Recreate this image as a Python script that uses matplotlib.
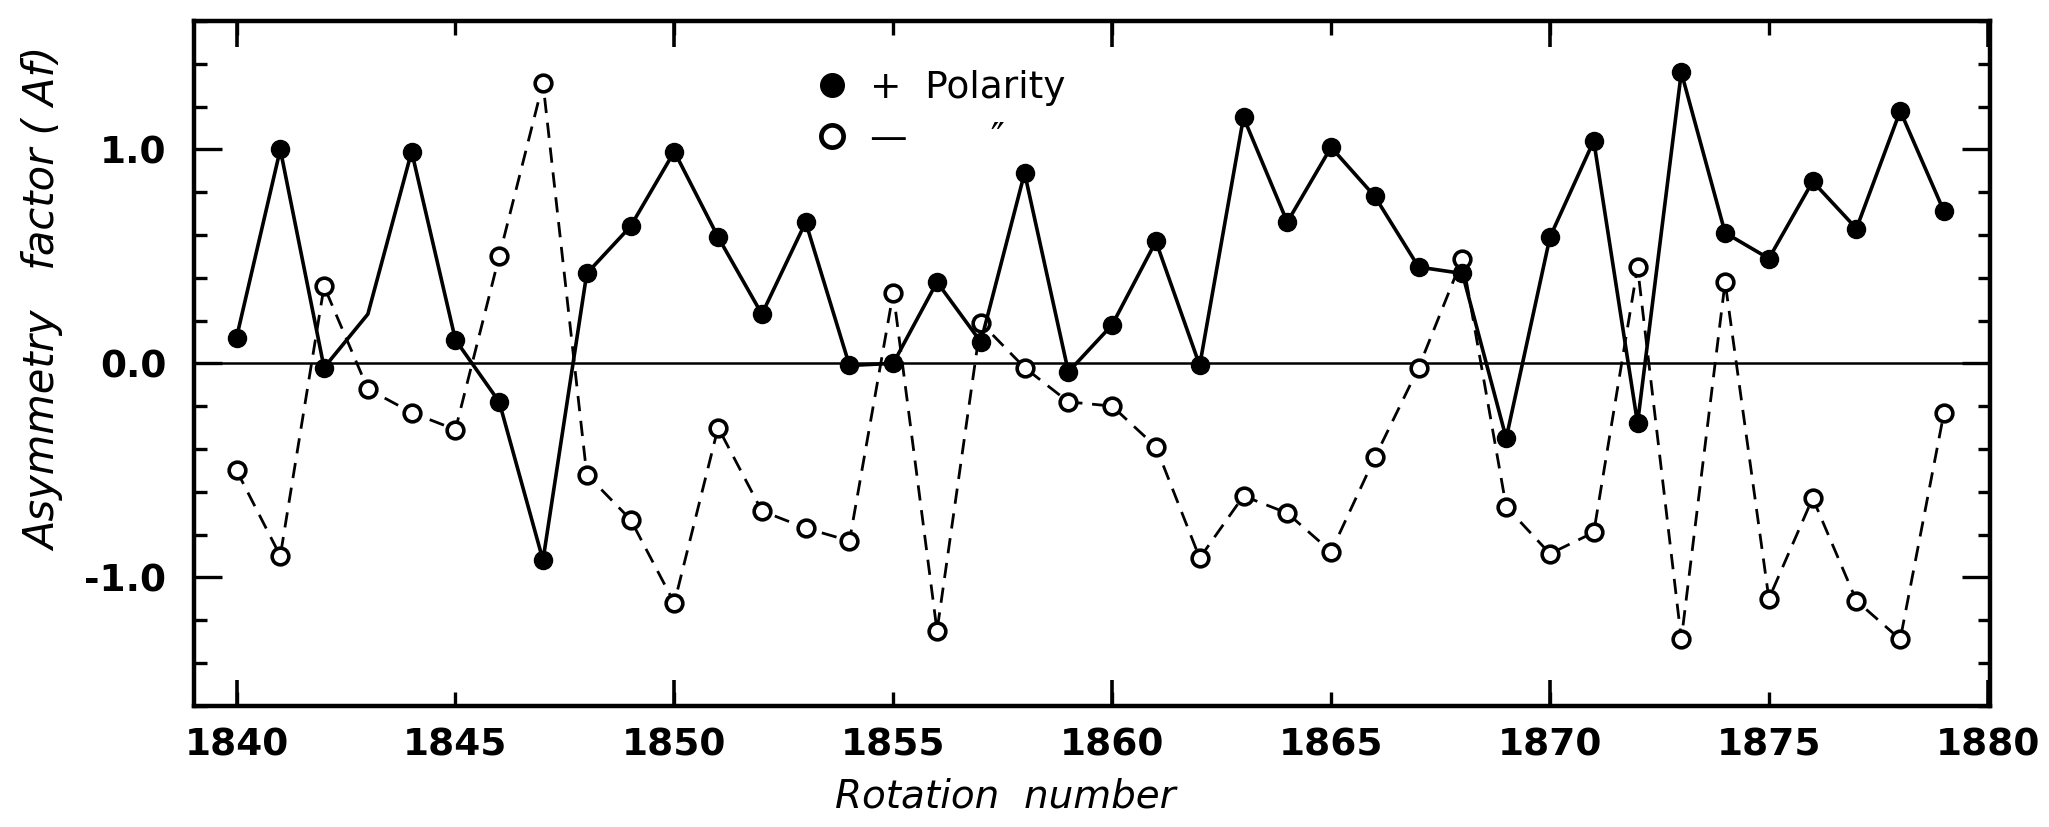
import matplotlib
matplotlib.use("Agg")
import matplotlib.pyplot as plt
from matplotlib.lines import Line2D
from matplotlib.ticker import MultipleLocator, FixedLocator

# Carrington rotation numbers
rotation = list(range(1840, 1880))

# Asymmetry factor, positive-polarity regions
af_pos = [0.12, 1.00, -0.02, 0.23, 0.99, 0.11, -0.18, -0.92, 0.42, 0.64,
          0.99, 0.59, 0.23, 0.66, -0.01, 0.00, 0.38, 0.10, 0.89, -0.04,
          0.18, 0.57, -0.01, 1.15, 0.66, 1.01, 0.78, 0.45, 0.42, -0.35,
          0.59, 1.04, -0.28, 1.36, 0.61, 0.49, 0.85, 0.63, 1.18, 0.71]

# Asymmetry factor, negative-polarity regions
af_neg = [-0.50, -0.90, 0.36, -0.12, -0.23, -0.31, 0.50, 1.31, -0.52, -0.73,
          -1.12, -0.30, -0.69, -0.77, -0.83, 0.33, -1.25, 0.19, -0.02, -0.18,
          -0.20, -0.39, -0.91, -0.62, -0.70, -0.88, -0.44, -0.02, 0.49, -0.67,
          -0.89, -0.79, 0.45, -1.29, 0.38, -1.10, -0.63, -1.11, -1.29, -0.23]

x_ticks = [1840, 1845, 1850, 1855, 1860, 1865, 1870, 1875, 1880]
y_ticks = [-1.0, 0.0, 1.0]
y_ticklabels = ["-1.0", "0.0", "1.0"]

fig = plt.figure(figsize=(20.49, 8.27), dpi=100)
ax = fig.add_axes([0.0947, 0.1467, 0.8765, 0.8279])

ax.axhline(0.0, color="black", lw=1.8, zorder=1)

# positive polarity: solid line with filled dots
pos_marks = [i for i in range(len(rotation)) if i != 3]
ax.plot(rotation, af_pos, color="black", lw=2.6, ls="-",
        marker="o", ms=13, mfc="black", mec="black",
        markevery=pos_marks, zorder=3)

# negative polarity: dashed line with open circles
ax.plot(rotation, af_neg, color="black", lw=2.0, dashes=(5.5, 3.5),
        marker="o", ms=12, mfc="white", mec="black", mew=2.6, zorder=2)

ax.set_xlim(1839.03, 1880.05)
ax.set_ylim(-1.6, 1.6)

for side in ax.spines.values():
    side.set_linewidth(3.2)

# x ticks
ax.xaxis.set_major_locator(FixedLocator(x_ticks))
ax.xaxis.set_minor_locator(MultipleLocator(10))
ax.xaxis.remove_overlapping_locs = False
ax.set_xticklabels([str(t) for t in x_ticks])
ax.tick_params(axis="x", which="major", direction="in", length=10, width=2.4,
               top=True, bottom=True, pad=16, labelsize=27)
ax.tick_params(axis="x", which="minor", direction="in", length=19, width=2.6,
               top=True, bottom=True, labelbottom=False)

# y ticks
ax.yaxis.set_major_locator(FixedLocator(y_ticks))
ax.yaxis.set_minor_locator(MultipleLocator(0.2))
ax.set_yticklabels(y_ticklabels)
ax.tick_params(axis="y", which="major", direction="in", length=20, width=2.4,
               left=True, right=True, pad=20, labelsize=27)
ax.tick_params(axis="y", which="minor", direction="in", length=9, width=2.4,
               left=True, right=True)

for lab in ax.get_xticklabels() + ax.get_yticklabels():
    lab.set_fontweight("bold")

ax.set_xlabel("Rotation  number", fontsize=28, fontstyle="italic")
ax.xaxis.set_label_coords(0.452, -0.105)
ax.set_ylabel("Asymmetry   factor ( Af)", fontsize=30, fontstyle="italic")
ax.yaxis.set_label_coords(-0.072, 0.593)

handles = [
    Line2D([], [], ls="none", marker="o", ms=17, mfc="black", mec="black"),
    Line2D([], [], ls="none", marker="o", ms=16, mfc="white", mec="black", mew=3.4),
]
labels = ["+  Polarity", "—       \u2033"]
ax.legend(handles, labels, loc="upper left", bbox_to_anchor=(0.3367, 0.95),
          frameon=False, fontsize=27, handlelength=1.0, handletextpad=0.5,
          labelspacing=0.4, borderaxespad=0.0)

fig.savefig("out.png", dpi=100, facecolor="white")
